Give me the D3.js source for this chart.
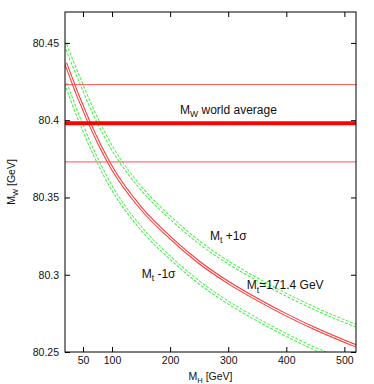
<!DOCTYPE html>
<html>
<head>
<meta charset="utf-8">
<script src="https://cdn.jsdelivr.net/npm/d3@7"></script>
<style>
  html, body { margin: 0; padding: 0; background: #fff; }
  svg { display: block; font-family: "Liberation Sans", Arial, Helvetica, sans-serif; }
</style>
</head>
<body>
<svg id="chart"></svg>
<script>
// Higgs mass grid [GeV]
const mH = [20, 30, 40, 50, 60, 80, 100, 150, 200, 250, 300, 350, 400, 450, 500, 520];
// predicted W mass [GeV] for M_t = 171.4 GeV and M_t +/- 1 sigma
const mwCentral  = [80.437, 80.427, 80.417, 80.408, 80.399, 80.383, 80.369, 80.343, 80.324, 80.308, 80.295, 80.284, 80.274, 80.265, 80.257, 80.254];
const mwTopPlus  = [80.449, 80.439, 80.430, 80.421, 80.412, 80.396, 80.382, 80.356, 80.337, 80.321, 80.308, 80.297, 80.287, 80.278, 80.270, 80.267];
const mwTopMinus = [80.424, 80.414, 80.404, 80.395, 80.386, 80.370, 80.356, 80.330, 80.311, 80.295, 80.282, 80.271, 80.261, 80.252, 80.244, 80.241];
// measured world average and its 1 sigma band
const mwAverage = 80.398;
const mwBand = [80.373, 80.423];

const xTicks = [50, 100, 200, 300, 400, 500];
const yTicks = [80.25, 80.3, 80.35, 80.4, 80.45];

const W = 374, H = 384;
const m = { top: 12, right: 18, bottom: 32, left: 65 };
const iw = W - m.left - m.right, ih = H - m.top - m.bottom;

const svg = d3.select('#chart').attr('width', W).attr('height', H);
const g = svg.append('g').attr('transform', `translate(${m.left},${m.top})`);

const x = d3.scaleLinear().domain([19, 520]).range([0, iw]);
const y = d3.scaleLinear().domain([80.25, 80.47]).range([ih, 0]);

svg.append('defs').append('clipPath').attr('id', 'clip')
  .append('rect').attr('width', iw).attr('height', ih);

const plot = g.append('g').attr('clip-path', 'url(#clip)');
const line = d3.line().x(d => x(d[0])).y(d => y(d[1])).curve(d3.curveMonotoneX);

// double lines: wide coloured stroke with a thin white core
function doubleLine(vals, color, dash) {
  const pts = mH.map((h, i) => [h, vals[i]]);
  plot.append('path').datum(pts).attr('d', line)
    .attr('fill', 'none').attr('stroke', color)
    .attr('stroke-width', dash ? 3.6 : 3.2)
    .attr('stroke-dasharray', dash || null);
  plot.append('path').datum(pts).attr('d', line)
    .attr('fill', 'none').attr('stroke', '#fff')
    .attr('stroke-width', dash ? 1.6 : 1.2);
}
doubleLine(mwTopPlus, '#44ee44', '3,1.5');
doubleLine(mwTopMinus, '#44ee44', '3,1.5');
doubleLine(mwCentral, '#ff3030', null);

// world average + band
plot.selectAll('line.band').data(mwBand).join('line')
  .attr('class', 'band')
  .attr('x1', 0).attr('x2', iw)
  .attr('y1', d => y(d)).attr('y2', d => y(d))
  .attr('stroke', '#ff5050').attr('stroke-width', 1);
plot.append('line')
  .attr('x1', 0).attr('x2', iw)
  .attr('y1', y(mwAverage)).attr('y2', y(mwAverage))
  .attr('stroke', '#ff0000').attr('stroke-width', 4);

// axes, ticks on all four sides pointing inward
const styleAxis = sel => {
  sel.select('.domain').remove();
  sel.selectAll('.tick line').attr('stroke', '#000');
  sel.selectAll('.tick text').attr('fill', '#111').attr('font-size', 10.5)
    .attr('font-family', '"Liberation Sans", Arial, sans-serif');
};
g.append('g').attr('transform', `translate(0,${ih})`)
  .call(d3.axisBottom(x).tickValues(xTicks).tickSize(-5).tickPadding(5)).call(styleAxis);
g.append('g')
  .call(d3.axisTop(x).tickValues(xTicks).tickSize(-5).tickFormat('')).call(styleAxis);
g.append('g')
  .call(d3.axisLeft(y).tickValues(yTicks).tickSize(-5).tickPadding(6)
    .tickFormat(d => String(+d.toFixed(2)))).call(styleAxis);
g.append('g').attr('transform', `translate(${iw},0)`)
  .call(d3.axisRight(y).tickValues(yTicks).tickSize(-5).tickFormat('')).call(styleAxis);

g.append('rect').attr('width', iw).attr('height', ih)
  .attr('fill', 'none').attr('stroke', '#000').attr('stroke-width', 1);

// text with a subscript
function subText(parent, main, sub, rest, size) {
  const t = parent.append('text').attr('font-size', size).attr('fill', '#111');
  t.append('tspan').text(main);
  t.append('tspan').attr('font-size', size * 0.72).attr('dy', size * 0.28).text(sub);
  t.append('tspan').attr('dy', -size * 0.28).text(rest);
  return t;
}

subText(g, 'M', 'W', ' world average', 12).attr('x', x(217)).attr('y', y(80.404));
subText(g, 'M', 't', ' +1σ', 12).attr('x', x(268.5)).attr('y', y(80.3225));
subText(g, 'M', 't', ' -1σ', 12).attr('x', x(151)).attr('y', y(80.298));
subText(g, 'M', 't', '=171.4 GeV', 12).attr('x', x(332)).attr('y', y(80.2906));

// axis titles
subText(svg, 'M', 'H', ' [GeV]', 10.5)
  .attr('text-anchor', 'middle').attr('x', m.left + iw / 2).attr('y', 380);
subText(svg, 'M', 'W', ' [GeV]', 10.5)
  .attr('text-anchor', 'middle')
  .attr('transform', `translate(15,${m.top + ih / 2}) rotate(-90)`);
</script>
</body>
</html>
